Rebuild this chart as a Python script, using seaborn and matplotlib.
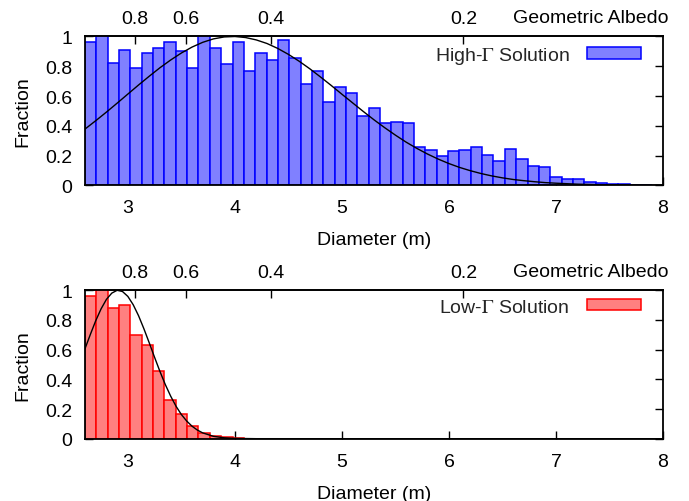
import numpy as np
import pandas as pd
import seaborn as sns
import matplotlib.pyplot as plt
from matplotlib.patches import Patch

# ---------------- data ----------------
bin_start = 2.6
bin_width = 0.106
high_fraction = [0.966, 1.0, 0.82, 0.91, 0.79, 0.888, 0.92, 0.966, 0.904, 0.79,
                 1.0, 0.92, 0.814, 0.966, 0.77, 0.89, 0.84, 0.975, 0.855, 0.68,
                 0.77, 0.557, 0.658, 0.618, 0.466, 0.517, 0.422, 0.427, 0.42, 0.26,
                 0.238, 0.194, 0.23, 0.234, 0.254, 0.206, 0.161, 0.246, 0.174, 0.13,
                 0.12, 0.059, 0.041, 0.041, 0.0225, 0.0135, 0.007, 0.007, 0.0, 0.005]

low_fraction = [0.96, 1.0, 0.884, 0.903, 0.696, 0.632, 0.453, 0.258, 0.166, 0.086,
                0.04, 0.016, 0.009, 0.004]

high_curve_d = [2.6, 2.7, 2.8, 2.9, 3.0, 3.1, 3.2, 3.3, 3.4, 3.5, 3.6, 3.7, 3.8, 3.9,
                4.0, 4.1, 4.2, 4.3, 4.4, 4.5, 4.6, 4.7, 4.8, 4.9, 5.0, 5.1, 5.2, 5.3,
                5.4, 5.5, 5.6, 5.7, 5.8, 5.9, 6.0, 6.1, 6.2, 6.3, 6.4, 6.5, 6.6, 6.7,
                6.8, 6.9, 7.0, 7.2, 7.4, 7.6, 7.8, 8.0]
high_curve_f = [0.378, 0.434, 0.492, 0.552, 0.613, 0.674, 0.733, 0.790, 0.842, 0.889,
                0.929, 0.961, 0.984, 0.997, 1.0, 0.993, 0.977, 0.953, 0.920, 0.880,
                0.834, 0.783, 0.728, 0.671, 0.612, 0.554, 0.496, 0.440, 0.387, 0.337,
                0.290, 0.248, 0.210, 0.176, 0.146, 0.120, 0.098, 0.079, 0.063, 0.050,
                0.039, 0.031, 0.024, 0.018, 0.014, 0.0075, 0.004, 0.002, 0.001, 0.0005]

low_curve_d = [2.6, 2.65, 2.7, 2.75, 2.8, 2.85, 2.9, 2.95, 3.0, 3.05, 3.1, 3.15, 3.2,
               3.25, 3.3, 3.35, 3.4, 3.45, 3.5, 3.55, 3.6, 3.65, 3.7, 3.8, 3.9, 4.0,
               4.2, 5.0, 6.0, 7.0, 8.0]
low_curve_f = [0.607, 0.703, 0.795, 0.875, 0.939, 0.981, 1.0, 0.992, 0.959, 0.903,
               0.829, 0.741, 0.646, 0.548, 0.453, 0.365, 0.287, 0.219, 0.163, 0.119,
               0.084, 0.058, 0.039, 0.016, 0.006, 0.002, 0.0001, 0.0, 0.0, 0.0, 0.0]

diameter_ticks = [3, 4, 5, 6, 7, 8]
albedo_ticks = [0.8, 0.6, 0.4, 0.2]
fraction_ticks = [0, 0.2, 0.4, 0.6, 0.8, 1]
fraction_labels = ['0', '0.2', '0.4', '0.6', '0.8', '1']
albedo_const = 2.744  # D = const / sqrt(p)

# ---------------- style ----------------
sns.set_theme(style='white')
plt.rcParams['font.family'] = ['Liberation Sans', 'DejaVu Sans']
plt.rcParams['mathtext.fontset'] = 'stix'
FS = 14

fig = plt.figure(figsize=(6.89, 5.02), dpi=100)
ax1 = fig.add_axes([0.1234, 0.6289, 0.8389, 0.2964])
ax2 = fig.add_axes([0.1234, 0.1241, 0.8389, 0.2956])


def d2p(d):
    d = np.asarray(d, dtype=float)
    with np.errstate(divide='ignore', invalid='ignore'):
        return (albedo_const / np.where(d > 0, d, np.nan)) ** 2


def p2d(p):
    p = np.asarray(p, dtype=float)
    with np.errstate(divide='ignore', invalid='ignore'):
        return albedo_const / np.sqrt(np.where(p > 0, p, np.nan))


def panel(ax, heights, face, edge, cx, cy, label):
    n = len(heights)
    centers = bin_start + bin_width * (np.arange(n) + 0.5)
    df = pd.DataFrame({'d': centers, 'f': heights})
    sns.histplot(data=df, x='d', weights='f', bins=n,
                 binrange=(bin_start, bin_start + n * bin_width), ax=ax,
                 color=face, edgecolor=edge, alpha=1, linewidth=1.1, stat='count')
    sns.lineplot(x=cx, y=cy, ax=ax, color='black', linewidth=1.0)
    ax.set_xlim(2.6, 8.0)
    ax.set_ylim(0, 1)
    ax.set_xticks(diameter_ticks)
    ax.set_xticklabels([str(t) for t in diameter_ticks], fontsize=FS)
    ax.set_yticks(fraction_ticks)
    ax.set_yticklabels(fraction_labels, fontsize=FS)
    ax.tick_params(axis='x', direction='in', length=6, width=1, top=False, bottom=True,
                   pad=10, colors='black')
    ax.tick_params(axis='y', direction='in', length=6, width=1, left=True, right=True,
                   pad=9, colors='black')
    for s in ax.spines.values():
        s.set_color('black')
        s.set_linewidth(1.3)
        s.set_zorder(5)
    ax.set_xlabel('Diameter (m)', fontsize=FS, labelpad=11, color='black')
    ax.set_ylabel('Fraction', fontsize=FS, labelpad=10, color='black')

    sec = ax.secondary_xaxis('top', functions=(d2p, p2d))
    sec.set_xticks(albedo_ticks)
    sec.set_xticklabels([str(a) for a in albedo_ticks], fontsize=FS)
    sec.tick_params(direction='in', length=6, width=1, pad=7, colors='black')
    sec.spines['top'].set_linewidth(1.3)
    ax.text(1.009, 1.13, 'Geometric Albedo', transform=ax.transAxes,
            ha='right', va='center', fontsize=FS, color='black')

    handle = Patch(facecolor=face, edgecolor=edge, linewidth=1.1)
    ax.legend([handle], [label], loc='upper right', markerfirst=False, frameon=False,
              fontsize=FS, handlelength=2.75, handleheight=0.5, handletextpad=0.9,
              bbox_to_anchor=(0.985, 1.035), borderaxespad=0.3)


panel(ax1, high_fraction, '#8080ff', '#0000ff', high_curve_d, high_curve_f,
      r'High-$\Gamma$ Solution')
panel(ax2, low_fraction, '#ff8080', '#ff0000', low_curve_d, low_curve_f,
      r'Low-$\Gamma$ Solution')

fig.savefig('out.png', dpi=100)
